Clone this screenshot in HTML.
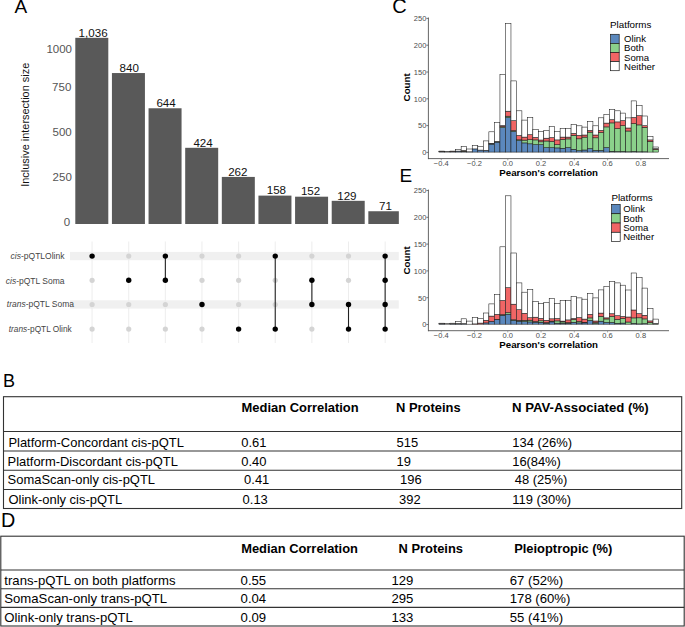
<!DOCTYPE html>
<html><head><meta charset="utf-8"><style>
html,body{margin:0;padding:0;background:#fff;}
body{width:685px;height:627px;overflow:hidden;font-family:'Liberation Sans', sans-serif;}
svg{display:block;}
text{font-family:'Liberation Sans', sans-serif;}
</style></head><body>
<svg width="685" height="627" viewBox="0 0 685 627">
<text x="14.6" y="13" font-size="19" fill="#000">A</text>
<text x="392.3" y="13.0" font-size="20" fill="#000">C</text>
<text x="399.6" y="182" font-size="19" fill="#000">E</text>
<text x="2.9" y="387.2" font-size="18" fill="#000">B</text>
<text x="0.9" y="526.7" font-size="19.8" fill="#000">D</text>
<rect x="75.30" y="37.83" width="33.00" height="186.17" fill="#595959"/>
<text x="93.10" y="36.63" font-size="11.6" text-anchor="middle" fill="#111">1,036</text>
<rect x="111.93" y="73.05" width="33.00" height="150.95" fill="#595959"/>
<text x="129.20" y="71.85" font-size="11.6" text-anchor="middle" fill="#111">840</text>
<rect x="148.56" y="108.27" width="33.00" height="115.73" fill="#595959"/>
<text x="166.10" y="107.07" font-size="11.6" text-anchor="middle" fill="#111">644</text>
<rect x="185.19" y="147.81" width="33.00" height="76.19" fill="#595959"/>
<text x="203.10" y="146.61" font-size="11.6" text-anchor="middle" fill="#111">424</text>
<rect x="221.82" y="176.92" width="33.00" height="47.08" fill="#595959"/>
<text x="237.80" y="175.72" font-size="11.6" text-anchor="middle" fill="#111">262</text>
<rect x="258.45" y="195.61" width="33.00" height="28.39" fill="#595959"/>
<text x="276.40" y="194.41" font-size="11.6" text-anchor="middle" fill="#111">158</text>
<rect x="295.08" y="196.69" width="33.00" height="27.31" fill="#595959"/>
<text x="310.60" y="195.49" font-size="11.6" text-anchor="middle" fill="#111">152</text>
<rect x="331.71" y="200.82" width="33.00" height="23.18" fill="#595959"/>
<text x="346.90" y="199.62" font-size="11.6" text-anchor="middle" fill="#111">129</text>
<rect x="368.34" y="211.24" width="30.50" height="12.76" fill="#595959"/>
<text x="385.50" y="210.04" font-size="11.6" text-anchor="middle" fill="#111">71</text>
<text x="72.0" y="52.90" font-size="11.5" text-anchor="end" fill="#555">1000</text>
<text x="71.3" y="91.00" font-size="11.5" text-anchor="end" fill="#555">750</text>
<text x="71.7" y="135.80" font-size="11.5" text-anchor="end" fill="#555">500</text>
<text x="71.8" y="181.10" font-size="11.5" text-anchor="end" fill="#555">250</text>
<text x="70.2" y="226.10" font-size="11.5" text-anchor="end" fill="#555">0</text>
<text transform="translate(29.1,124.8) rotate(-90)" font-size="10.95" text-anchor="middle" fill="#111">Inclusive intersection size</text>
<rect x="70" y="251.90" width="328.8" height="8.3" fill="#f0f0f0"/>
<rect x="70" y="300.30" width="328.8" height="8.3" fill="#f0f0f0"/>
<line x1="92.10" y1="241.5" x2="92.10" y2="343" stroke="#ebebeb" stroke-width="0.9"/>
<line x1="128.73" y1="241.5" x2="128.73" y2="343" stroke="#ebebeb" stroke-width="0.9"/>
<line x1="165.36" y1="241.5" x2="165.36" y2="343" stroke="#ebebeb" stroke-width="0.9"/>
<line x1="201.99" y1="241.5" x2="201.99" y2="343" stroke="#ebebeb" stroke-width="0.9"/>
<line x1="238.62" y1="241.5" x2="238.62" y2="343" stroke="#ebebeb" stroke-width="0.9"/>
<line x1="275.25" y1="241.5" x2="275.25" y2="343" stroke="#ebebeb" stroke-width="0.9"/>
<line x1="311.88" y1="241.5" x2="311.88" y2="343" stroke="#ebebeb" stroke-width="0.9"/>
<line x1="348.51" y1="241.5" x2="348.51" y2="343" stroke="#ebebeb" stroke-width="0.9"/>
<line x1="385.14" y1="241.5" x2="385.14" y2="343" stroke="#ebebeb" stroke-width="0.9"/>
<circle cx="92.10" cy="280.30" r="2.6" fill="#d4d4d4"/>
<circle cx="92.10" cy="304.50" r="2.6" fill="#d4d4d4"/>
<circle cx="92.10" cy="329.10" r="2.6" fill="#d4d4d4"/>
<circle cx="92.10" cy="256.10" r="2.7" fill="#000"/>
<circle cx="128.73" cy="256.10" r="2.6" fill="#d4d4d4"/>
<circle cx="128.73" cy="304.50" r="2.6" fill="#d4d4d4"/>
<circle cx="128.73" cy="329.10" r="2.6" fill="#d4d4d4"/>
<circle cx="128.73" cy="280.30" r="2.7" fill="#000"/>
<circle cx="165.36" cy="304.50" r="2.6" fill="#d4d4d4"/>
<circle cx="165.36" cy="329.10" r="2.6" fill="#d4d4d4"/>
<line x1="165.36" y1="256.10" x2="165.36" y2="280.30" stroke="#222" stroke-width="1.1"/>
<circle cx="165.36" cy="256.10" r="2.7" fill="#000"/>
<circle cx="165.36" cy="280.30" r="2.7" fill="#000"/>
<circle cx="201.99" cy="256.10" r="2.6" fill="#d4d4d4"/>
<circle cx="201.99" cy="280.30" r="2.6" fill="#d4d4d4"/>
<circle cx="201.99" cy="329.10" r="2.6" fill="#d4d4d4"/>
<circle cx="201.99" cy="304.50" r="2.7" fill="#000"/>
<circle cx="238.62" cy="256.10" r="2.6" fill="#d4d4d4"/>
<circle cx="238.62" cy="280.30" r="2.6" fill="#d4d4d4"/>
<circle cx="238.62" cy="304.50" r="2.6" fill="#d4d4d4"/>
<circle cx="238.62" cy="329.10" r="2.7" fill="#000"/>
<circle cx="275.25" cy="280.30" r="2.6" fill="#d4d4d4"/>
<circle cx="275.25" cy="304.50" r="2.6" fill="#d4d4d4"/>
<line x1="275.25" y1="256.10" x2="275.25" y2="329.10" stroke="#222" stroke-width="1.1"/>
<circle cx="275.25" cy="256.10" r="2.7" fill="#000"/>
<circle cx="275.25" cy="329.10" r="2.7" fill="#000"/>
<circle cx="311.88" cy="256.10" r="2.6" fill="#d4d4d4"/>
<circle cx="311.88" cy="329.10" r="2.6" fill="#d4d4d4"/>
<line x1="311.88" y1="280.30" x2="311.88" y2="304.50" stroke="#222" stroke-width="1.1"/>
<circle cx="311.88" cy="280.30" r="2.7" fill="#000"/>
<circle cx="311.88" cy="304.50" r="2.7" fill="#000"/>
<circle cx="348.51" cy="256.10" r="2.6" fill="#d4d4d4"/>
<circle cx="348.51" cy="280.30" r="2.6" fill="#d4d4d4"/>
<line x1="348.51" y1="304.50" x2="348.51" y2="329.10" stroke="#222" stroke-width="1.1"/>
<circle cx="348.51" cy="304.50" r="2.7" fill="#000"/>
<circle cx="348.51" cy="329.10" r="2.7" fill="#000"/>
<line x1="385.14" y1="256.10" x2="385.14" y2="329.10" stroke="#222" stroke-width="1.1"/>
<circle cx="385.14" cy="256.10" r="2.7" fill="#000"/>
<circle cx="385.14" cy="280.30" r="2.7" fill="#000"/>
<circle cx="385.14" cy="304.50" r="2.7" fill="#000"/>
<circle cx="385.14" cy="329.10" r="2.7" fill="#000"/>
<text x="10.6" y="259.2" font-size="8.5" fill="#444"><tspan font-style="italic">cis</tspan>-pQTLOlink</text>
<text x="5.8" y="283.5" font-size="8.5" fill="#444"><tspan font-style="italic">cis</tspan>-pQTL Soma</text>
<text x="6.8" y="307.3" font-size="8.5" fill="#444"><tspan font-style="italic">trans</tspan>-pQTL Soma</text>
<text x="8.8" y="332.2" font-size="8.3" fill="#444"><tspan font-style="italic">trans</tspan>-pQTL Olink</text>
<rect x="439.00" y="151.70" width="5.54" height="0.40" fill="#5b88bd" stroke="#1a1a1a" stroke-width="0.55"/>
<rect x="439.00" y="151.50" width="5.54" height="0.20" fill="#8bd18b" stroke="#1a1a1a" stroke-width="0.55"/>
<rect x="439.00" y="151.30" width="5.54" height="0.20" fill="#f06565" stroke="#1a1a1a" stroke-width="0.55"/>
<rect x="439.00" y="151.10" width="5.54" height="0.20" fill="#ffffff" stroke="#1a1a1a" stroke-width="0.55"/>
<rect x="444.54" y="151.30" width="5.54" height="0.80" fill="#ffffff" stroke="#1a1a1a" stroke-width="0.55"/>
<rect x="450.08" y="151.60" width="5.54" height="0.50" fill="#5b88bd" stroke="#1a1a1a" stroke-width="0.55"/>
<rect x="450.08" y="151.30" width="5.54" height="0.30" fill="#f06565" stroke="#1a1a1a" stroke-width="0.55"/>
<rect x="450.08" y="151.10" width="5.54" height="0.20" fill="#ffffff" stroke="#1a1a1a" stroke-width="0.55"/>
<rect x="455.62" y="151.10" width="5.54" height="1.00" fill="#5b88bd" stroke="#1a1a1a" stroke-width="0.55"/>
<rect x="455.62" y="149.50" width="5.54" height="1.60" fill="#ffffff" stroke="#1a1a1a" stroke-width="0.55"/>
<rect x="461.16" y="151.50" width="5.54" height="0.60" fill="#5b88bd" stroke="#1a1a1a" stroke-width="0.55"/>
<rect x="461.16" y="151.10" width="5.54" height="0.40" fill="#8bd18b" stroke="#1a1a1a" stroke-width="0.55"/>
<rect x="461.16" y="150.60" width="5.54" height="0.50" fill="#f06565" stroke="#1a1a1a" stroke-width="0.55"/>
<rect x="461.16" y="146.70" width="5.54" height="3.90" fill="#ffffff" stroke="#1a1a1a" stroke-width="0.55"/>
<rect x="466.70" y="151.80" width="5.54" height="0.30" fill="#5b88bd" stroke="#1a1a1a" stroke-width="0.55"/>
<rect x="466.70" y="149.00" width="5.54" height="2.80" fill="#ffffff" stroke="#1a1a1a" stroke-width="0.55"/>
<rect x="472.24" y="148.90" width="5.54" height="3.20" fill="#5b88bd" stroke="#1a1a1a" stroke-width="0.55"/>
<rect x="472.24" y="145.30" width="5.54" height="3.60" fill="#ffffff" stroke="#1a1a1a" stroke-width="0.55"/>
<rect x="477.78" y="150.10" width="5.54" height="2.00" fill="#5b88bd" stroke="#1a1a1a" stroke-width="0.55"/>
<rect x="477.78" y="146.40" width="5.54" height="3.70" fill="#ffffff" stroke="#1a1a1a" stroke-width="0.55"/>
<rect x="483.32" y="150.30" width="5.54" height="1.80" fill="#5b88bd" stroke="#1a1a1a" stroke-width="0.55"/>
<rect x="483.32" y="140.90" width="5.54" height="9.40" fill="#ffffff" stroke="#1a1a1a" stroke-width="0.55"/>
<rect x="488.86" y="144.10" width="5.54" height="8.00" fill="#5b88bd" stroke="#1a1a1a" stroke-width="0.55"/>
<rect x="488.86" y="143.80" width="5.54" height="0.30" fill="#8bd18b" stroke="#1a1a1a" stroke-width="0.55"/>
<rect x="488.86" y="143.30" width="5.54" height="0.50" fill="#f06565" stroke="#1a1a1a" stroke-width="0.55"/>
<rect x="488.86" y="131.80" width="5.54" height="11.50" fill="#ffffff" stroke="#1a1a1a" stroke-width="0.55"/>
<rect x="494.40" y="142.10" width="5.54" height="10.00" fill="#5b88bd" stroke="#1a1a1a" stroke-width="0.55"/>
<rect x="494.40" y="141.80" width="5.54" height="0.30" fill="#8bd18b" stroke="#1a1a1a" stroke-width="0.55"/>
<rect x="494.40" y="141.50" width="5.54" height="0.30" fill="#f06565" stroke="#1a1a1a" stroke-width="0.55"/>
<rect x="494.40" y="122.60" width="5.54" height="18.90" fill="#ffffff" stroke="#1a1a1a" stroke-width="0.55"/>
<rect x="499.94" y="127.60" width="5.54" height="24.50" fill="#5b88bd" stroke="#1a1a1a" stroke-width="0.55"/>
<rect x="499.94" y="126.60" width="5.54" height="1.00" fill="#8bd18b" stroke="#1a1a1a" stroke-width="0.55"/>
<rect x="499.94" y="125.60" width="5.54" height="1.00" fill="#f06565" stroke="#1a1a1a" stroke-width="0.55"/>
<rect x="499.94" y="74.70" width="5.54" height="50.90" fill="#ffffff" stroke="#1a1a1a" stroke-width="0.55"/>
<rect x="505.48" y="117.70" width="5.48" height="34.40" fill="#5b88bd" stroke="#1a1a1a" stroke-width="0.55"/>
<rect x="505.48" y="116.20" width="5.48" height="1.50" fill="#8bd18b" stroke="#1a1a1a" stroke-width="0.55"/>
<rect x="505.48" y="111.20" width="5.48" height="5.00" fill="#f06565" stroke="#1a1a1a" stroke-width="0.55"/>
<rect x="505.48" y="23.70" width="5.48" height="87.50" fill="#ffffff" stroke="#1a1a1a" stroke-width="0.55"/>
<rect x="510.96" y="131.50" width="5.46" height="20.60" fill="#5b88bd" stroke="#1a1a1a" stroke-width="0.55"/>
<rect x="510.96" y="130.70" width="5.46" height="0.80" fill="#8bd18b" stroke="#1a1a1a" stroke-width="0.55"/>
<rect x="510.96" y="120.70" width="5.46" height="10.00" fill="#f06565" stroke="#1a1a1a" stroke-width="0.55"/>
<rect x="510.96" y="80.90" width="5.46" height="39.80" fill="#ffffff" stroke="#1a1a1a" stroke-width="0.55"/>
<rect x="516.43" y="140.60" width="5.46" height="11.50" fill="#5b88bd" stroke="#1a1a1a" stroke-width="0.55"/>
<rect x="516.43" y="139.80" width="5.46" height="0.80" fill="#8bd18b" stroke="#1a1a1a" stroke-width="0.55"/>
<rect x="516.43" y="135.50" width="5.46" height="4.30" fill="#f06565" stroke="#1a1a1a" stroke-width="0.55"/>
<rect x="516.43" y="110.80" width="5.46" height="24.70" fill="#ffffff" stroke="#1a1a1a" stroke-width="0.55"/>
<rect x="521.89" y="142.90" width="5.46" height="9.20" fill="#5b88bd" stroke="#1a1a1a" stroke-width="0.55"/>
<rect x="521.89" y="140.10" width="5.46" height="2.80" fill="#8bd18b" stroke="#1a1a1a" stroke-width="0.55"/>
<rect x="521.89" y="137.10" width="5.46" height="3.00" fill="#f06565" stroke="#1a1a1a" stroke-width="0.55"/>
<rect x="521.89" y="120.10" width="5.46" height="17.00" fill="#ffffff" stroke="#1a1a1a" stroke-width="0.55"/>
<rect x="527.36" y="143.80" width="5.46" height="8.30" fill="#5b88bd" stroke="#1a1a1a" stroke-width="0.55"/>
<rect x="527.36" y="139.70" width="5.46" height="4.10" fill="#8bd18b" stroke="#1a1a1a" stroke-width="0.55"/>
<rect x="527.36" y="134.70" width="5.46" height="5.00" fill="#f06565" stroke="#1a1a1a" stroke-width="0.55"/>
<rect x="527.36" y="117.50" width="5.46" height="17.20" fill="#ffffff" stroke="#1a1a1a" stroke-width="0.55"/>
<rect x="532.82" y="144.70" width="5.46" height="7.40" fill="#5b88bd" stroke="#1a1a1a" stroke-width="0.55"/>
<rect x="532.82" y="139.90" width="5.46" height="4.80" fill="#8bd18b" stroke="#1a1a1a" stroke-width="0.55"/>
<rect x="532.82" y="137.40" width="5.46" height="2.50" fill="#f06565" stroke="#1a1a1a" stroke-width="0.55"/>
<rect x="532.82" y="129.60" width="5.46" height="7.80" fill="#ffffff" stroke="#1a1a1a" stroke-width="0.55"/>
<rect x="538.28" y="144.70" width="5.46" height="7.40" fill="#5b88bd" stroke="#1a1a1a" stroke-width="0.55"/>
<rect x="538.28" y="141.80" width="5.46" height="2.90" fill="#8bd18b" stroke="#1a1a1a" stroke-width="0.55"/>
<rect x="538.28" y="140.00" width="5.46" height="1.80" fill="#f06565" stroke="#1a1a1a" stroke-width="0.55"/>
<rect x="538.28" y="131.60" width="5.46" height="8.40" fill="#ffffff" stroke="#1a1a1a" stroke-width="0.55"/>
<rect x="543.75" y="147.70" width="5.46" height="4.40" fill="#5b88bd" stroke="#1a1a1a" stroke-width="0.55"/>
<rect x="543.75" y="141.00" width="5.46" height="6.70" fill="#8bd18b" stroke="#1a1a1a" stroke-width="0.55"/>
<rect x="543.75" y="138.20" width="5.46" height="2.80" fill="#f06565" stroke="#1a1a1a" stroke-width="0.55"/>
<rect x="543.75" y="130.40" width="5.46" height="7.80" fill="#ffffff" stroke="#1a1a1a" stroke-width="0.55"/>
<rect x="549.21" y="147.70" width="5.46" height="4.40" fill="#5b88bd" stroke="#1a1a1a" stroke-width="0.55"/>
<rect x="549.21" y="141.60" width="5.46" height="6.10" fill="#8bd18b" stroke="#1a1a1a" stroke-width="0.55"/>
<rect x="549.21" y="137.60" width="5.46" height="4.00" fill="#f06565" stroke="#1a1a1a" stroke-width="0.55"/>
<rect x="549.21" y="126.50" width="5.46" height="11.10" fill="#ffffff" stroke="#1a1a1a" stroke-width="0.55"/>
<rect x="554.68" y="147.90" width="5.46" height="4.20" fill="#5b88bd" stroke="#1a1a1a" stroke-width="0.55"/>
<rect x="554.68" y="144.70" width="5.46" height="3.20" fill="#8bd18b" stroke="#1a1a1a" stroke-width="0.55"/>
<rect x="554.68" y="139.90" width="5.46" height="4.80" fill="#f06565" stroke="#1a1a1a" stroke-width="0.55"/>
<rect x="554.68" y="131.60" width="5.46" height="8.30" fill="#ffffff" stroke="#1a1a1a" stroke-width="0.55"/>
<rect x="560.14" y="148.30" width="5.46" height="3.80" fill="#5b88bd" stroke="#1a1a1a" stroke-width="0.55"/>
<rect x="560.14" y="139.50" width="5.46" height="8.80" fill="#8bd18b" stroke="#1a1a1a" stroke-width="0.55"/>
<rect x="560.14" y="137.10" width="5.46" height="2.40" fill="#f06565" stroke="#1a1a1a" stroke-width="0.55"/>
<rect x="560.14" y="128.60" width="5.46" height="8.50" fill="#ffffff" stroke="#1a1a1a" stroke-width="0.55"/>
<rect x="565.60" y="147.60" width="5.46" height="4.50" fill="#5b88bd" stroke="#1a1a1a" stroke-width="0.55"/>
<rect x="565.60" y="138.90" width="5.46" height="8.70" fill="#8bd18b" stroke="#1a1a1a" stroke-width="0.55"/>
<rect x="565.60" y="137.10" width="5.46" height="1.80" fill="#f06565" stroke="#1a1a1a" stroke-width="0.55"/>
<rect x="565.60" y="128.60" width="5.46" height="8.50" fill="#ffffff" stroke="#1a1a1a" stroke-width="0.55"/>
<rect x="571.07" y="149.30" width="5.46" height="2.80" fill="#5b88bd" stroke="#1a1a1a" stroke-width="0.55"/>
<rect x="571.07" y="135.30" width="5.46" height="14.00" fill="#8bd18b" stroke="#1a1a1a" stroke-width="0.55"/>
<rect x="571.07" y="133.40" width="5.46" height="1.90" fill="#f06565" stroke="#1a1a1a" stroke-width="0.55"/>
<rect x="571.07" y="124.40" width="5.46" height="9.00" fill="#ffffff" stroke="#1a1a1a" stroke-width="0.55"/>
<rect x="576.53" y="150.70" width="5.46" height="1.40" fill="#5b88bd" stroke="#1a1a1a" stroke-width="0.55"/>
<rect x="576.53" y="138.80" width="5.46" height="11.90" fill="#8bd18b" stroke="#1a1a1a" stroke-width="0.55"/>
<rect x="576.53" y="135.40" width="5.46" height="3.40" fill="#f06565" stroke="#1a1a1a" stroke-width="0.55"/>
<rect x="576.53" y="125.80" width="5.46" height="9.60" fill="#ffffff" stroke="#1a1a1a" stroke-width="0.55"/>
<rect x="582.00" y="150.00" width="5.46" height="2.10" fill="#5b88bd" stroke="#1a1a1a" stroke-width="0.55"/>
<rect x="582.00" y="137.10" width="5.46" height="12.90" fill="#8bd18b" stroke="#1a1a1a" stroke-width="0.55"/>
<rect x="582.00" y="135.00" width="5.46" height="2.10" fill="#f06565" stroke="#1a1a1a" stroke-width="0.55"/>
<rect x="582.00" y="127.10" width="5.46" height="7.90" fill="#ffffff" stroke="#1a1a1a" stroke-width="0.55"/>
<rect x="587.46" y="148.60" width="5.46" height="3.50" fill="#5b88bd" stroke="#1a1a1a" stroke-width="0.55"/>
<rect x="587.46" y="132.10" width="5.46" height="16.50" fill="#8bd18b" stroke="#1a1a1a" stroke-width="0.55"/>
<rect x="587.46" y="130.40" width="5.46" height="1.70" fill="#f06565" stroke="#1a1a1a" stroke-width="0.55"/>
<rect x="587.46" y="121.60" width="5.46" height="8.80" fill="#ffffff" stroke="#1a1a1a" stroke-width="0.55"/>
<rect x="592.92" y="150.40" width="5.46" height="1.70" fill="#5b88bd" stroke="#1a1a1a" stroke-width="0.55"/>
<rect x="592.92" y="137.80" width="5.46" height="12.60" fill="#8bd18b" stroke="#1a1a1a" stroke-width="0.55"/>
<rect x="592.92" y="135.00" width="5.46" height="2.80" fill="#f06565" stroke="#1a1a1a" stroke-width="0.55"/>
<rect x="592.92" y="125.80" width="5.46" height="9.20" fill="#ffffff" stroke="#1a1a1a" stroke-width="0.55"/>
<rect x="598.39" y="150.40" width="5.46" height="1.70" fill="#5b88bd" stroke="#1a1a1a" stroke-width="0.55"/>
<rect x="598.39" y="132.50" width="5.46" height="17.90" fill="#8bd18b" stroke="#1a1a1a" stroke-width="0.55"/>
<rect x="598.39" y="130.40" width="5.46" height="2.10" fill="#f06565" stroke="#1a1a1a" stroke-width="0.55"/>
<rect x="598.39" y="117.80" width="5.46" height="12.60" fill="#ffffff" stroke="#1a1a1a" stroke-width="0.55"/>
<rect x="603.85" y="147.60" width="5.46" height="4.50" fill="#5b88bd" stroke="#1a1a1a" stroke-width="0.55"/>
<rect x="603.85" y="126.90" width="5.46" height="20.70" fill="#8bd18b" stroke="#1a1a1a" stroke-width="0.55"/>
<rect x="603.85" y="123.10" width="5.46" height="3.80" fill="#f06565" stroke="#1a1a1a" stroke-width="0.55"/>
<rect x="603.85" y="114.40" width="5.46" height="8.70" fill="#ffffff" stroke="#1a1a1a" stroke-width="0.55"/>
<rect x="609.32" y="151.30" width="5.46" height="0.80" fill="#5b88bd" stroke="#1a1a1a" stroke-width="0.55"/>
<rect x="609.32" y="122.90" width="5.46" height="28.40" fill="#8bd18b" stroke="#1a1a1a" stroke-width="0.55"/>
<rect x="609.32" y="119.70" width="5.46" height="3.20" fill="#f06565" stroke="#1a1a1a" stroke-width="0.55"/>
<rect x="609.32" y="109.60" width="5.46" height="10.10" fill="#ffffff" stroke="#1a1a1a" stroke-width="0.55"/>
<rect x="614.78" y="151.60" width="5.46" height="0.50" fill="#5b88bd" stroke="#1a1a1a" stroke-width="0.55"/>
<rect x="614.78" y="128.60" width="5.46" height="23.00" fill="#8bd18b" stroke="#1a1a1a" stroke-width="0.55"/>
<rect x="614.78" y="121.90" width="5.46" height="6.70" fill="#f06565" stroke="#1a1a1a" stroke-width="0.55"/>
<rect x="614.78" y="110.80" width="5.46" height="11.10" fill="#ffffff" stroke="#1a1a1a" stroke-width="0.55"/>
<rect x="620.24" y="151.50" width="5.46" height="0.60" fill="#5b88bd" stroke="#1a1a1a" stroke-width="0.55"/>
<rect x="620.24" y="125.70" width="5.46" height="25.80" fill="#8bd18b" stroke="#1a1a1a" stroke-width="0.55"/>
<rect x="620.24" y="120.60" width="5.46" height="5.10" fill="#f06565" stroke="#1a1a1a" stroke-width="0.55"/>
<rect x="620.24" y="113.10" width="5.46" height="7.50" fill="#ffffff" stroke="#1a1a1a" stroke-width="0.55"/>
<rect x="625.71" y="151.80" width="5.46" height="0.30" fill="#5b88bd" stroke="#1a1a1a" stroke-width="0.55"/>
<rect x="625.71" y="131.00" width="5.46" height="20.80" fill="#8bd18b" stroke="#1a1a1a" stroke-width="0.55"/>
<rect x="625.71" y="128.00" width="5.46" height="3.00" fill="#f06565" stroke="#1a1a1a" stroke-width="0.55"/>
<rect x="625.71" y="117.90" width="5.46" height="10.10" fill="#ffffff" stroke="#1a1a1a" stroke-width="0.55"/>
<rect x="631.17" y="151.50" width="5.46" height="0.60" fill="#5b88bd" stroke="#1a1a1a" stroke-width="0.55"/>
<rect x="631.17" y="123.60" width="5.46" height="27.90" fill="#8bd18b" stroke="#1a1a1a" stroke-width="0.55"/>
<rect x="631.17" y="117.50" width="5.46" height="6.10" fill="#f06565" stroke="#1a1a1a" stroke-width="0.55"/>
<rect x="631.17" y="100.90" width="5.46" height="16.60" fill="#ffffff" stroke="#1a1a1a" stroke-width="0.55"/>
<rect x="636.64" y="151.80" width="5.46" height="0.30" fill="#5b88bd" stroke="#1a1a1a" stroke-width="0.55"/>
<rect x="636.64" y="124.90" width="5.46" height="26.90" fill="#8bd18b" stroke="#1a1a1a" stroke-width="0.55"/>
<rect x="636.64" y="115.70" width="5.46" height="9.20" fill="#f06565" stroke="#1a1a1a" stroke-width="0.55"/>
<rect x="636.64" y="105.40" width="5.46" height="10.30" fill="#ffffff" stroke="#1a1a1a" stroke-width="0.55"/>
<rect x="642.10" y="151.80" width="5.46" height="0.30" fill="#5b88bd" stroke="#1a1a1a" stroke-width="0.55"/>
<rect x="642.10" y="127.30" width="5.46" height="24.50" fill="#8bd18b" stroke="#1a1a1a" stroke-width="0.55"/>
<rect x="642.10" y="125.70" width="5.46" height="1.60" fill="#f06565" stroke="#1a1a1a" stroke-width="0.55"/>
<rect x="642.10" y="116.00" width="5.46" height="9.70" fill="#ffffff" stroke="#1a1a1a" stroke-width="0.55"/>
<rect x="647.56" y="141.40" width="5.46" height="10.70" fill="#8bd18b" stroke="#1a1a1a" stroke-width="0.55"/>
<rect x="647.56" y="139.90" width="5.46" height="1.50" fill="#f06565" stroke="#1a1a1a" stroke-width="0.55"/>
<rect x="647.56" y="136.60" width="5.46" height="3.30" fill="#ffffff" stroke="#1a1a1a" stroke-width="0.55"/>
<rect x="653.03" y="149.40" width="5.46" height="2.70" fill="#8bd18b" stroke="#1a1a1a" stroke-width="0.55"/>
<rect x="653.03" y="148.70" width="5.46" height="0.70" fill="#f06565" stroke="#1a1a1a" stroke-width="0.55"/>
<rect x="653.03" y="147.00" width="5.46" height="1.70" fill="#ffffff" stroke="#1a1a1a" stroke-width="0.55"/>
<line x1="428.4" y1="17.50" x2="428.4" y2="159.10" stroke="#555" stroke-width="0.9"/>
<line x1="428" y1="158.60" x2="669" y2="158.60" stroke="#555" stroke-width="0.9"/>
<line x1="426.4" y1="152.40" x2="428.4" y2="152.40" stroke="#555" stroke-width="0.8"/>
<text transform="translate(426.4,155.20) scale(0.94,1)" font-size="8.0" text-anchor="end" fill="#4d4d4d">0</text>
<line x1="426.4" y1="125.60" x2="428.4" y2="125.60" stroke="#555" stroke-width="0.8"/>
<text transform="translate(426.4,128.40) scale(0.94,1)" font-size="8.0" text-anchor="end" fill="#4d4d4d">50</text>
<line x1="426.4" y1="98.80" x2="428.4" y2="98.80" stroke="#555" stroke-width="0.8"/>
<text transform="translate(426.4,101.60) scale(0.94,1)" font-size="8.0" text-anchor="end" fill="#4d4d4d">100</text>
<line x1="426.4" y1="72.00" x2="428.4" y2="72.00" stroke="#555" stroke-width="0.8"/>
<text transform="translate(426.4,74.80) scale(0.94,1)" font-size="8.0" text-anchor="end" fill="#4d4d4d">150</text>
<line x1="426.4" y1="45.20" x2="428.4" y2="45.20" stroke="#555" stroke-width="0.8"/>
<text transform="translate(426.4,48.00) scale(0.94,1)" font-size="8.0" text-anchor="end" fill="#4d4d4d">200</text>
<line x1="426.4" y1="18.40" x2="428.4" y2="18.40" stroke="#555" stroke-width="0.8"/>
<text transform="translate(426.4,21.20) scale(0.94,1)" font-size="8.0" text-anchor="end" fill="#4d4d4d">250</text>
<line x1="441.28" y1="159.00" x2="441.28" y2="160.30" stroke="#777" stroke-width="0.7"/>
<text transform="translate(441.28,165.60) scale(0.94,1)" font-size="8.0" text-anchor="middle" fill="#4d4d4d">−0.4</text>
<line x1="474.54" y1="159.00" x2="474.54" y2="160.30" stroke="#777" stroke-width="0.7"/>
<text transform="translate(474.54,165.60) scale(0.94,1)" font-size="8.0" text-anchor="middle" fill="#4d4d4d">−0.2</text>
<line x1="507.80" y1="159.00" x2="507.80" y2="160.30" stroke="#777" stroke-width="0.7"/>
<text transform="translate(507.80,165.60) scale(0.94,1)" font-size="8.0" text-anchor="middle" fill="#4d4d4d">0.0</text>
<line x1="541.06" y1="159.00" x2="541.06" y2="160.30" stroke="#777" stroke-width="0.7"/>
<text transform="translate(541.06,165.60) scale(0.94,1)" font-size="8.0" text-anchor="middle" fill="#4d4d4d">0.2</text>
<line x1="574.32" y1="159.00" x2="574.32" y2="160.30" stroke="#777" stroke-width="0.7"/>
<text transform="translate(574.32,165.60) scale(0.94,1)" font-size="8.0" text-anchor="middle" fill="#4d4d4d">0.4</text>
<line x1="607.58" y1="159.00" x2="607.58" y2="160.30" stroke="#777" stroke-width="0.7"/>
<text transform="translate(607.58,165.60) scale(0.94,1)" font-size="8.0" text-anchor="middle" fill="#4d4d4d">0.6</text>
<line x1="640.84" y1="159.00" x2="640.84" y2="160.30" stroke="#777" stroke-width="0.7"/>
<text transform="translate(640.84,165.60) scale(0.94,1)" font-size="8.0" text-anchor="middle" fill="#4d4d4d">0.8</text>
<text transform="translate(410.3,87.30) rotate(-90)" font-size="9.8" font-weight="bold" text-anchor="middle" fill="#000">Count</text>
<text x="499.3" y="176.30" font-size="9.7" font-weight="bold" fill="#000">Pearson's correlation</text>
<text x="610.0" y="28.4" font-size="9.8" fill="#000">Platforms</text>
<rect x="610.60" y="34.30" width="8.6" height="9.10" fill="#5b88bd" stroke="#1a1a1a" stroke-width="0.7"/>
<text x="624.10" y="42.30" font-size="9.6" fill="#000">Olink</text>
<rect x="610.60" y="43.40" width="8.6" height="9.10" fill="#8bd18b" stroke="#1a1a1a" stroke-width="0.7"/>
<text x="624.10" y="51.40" font-size="9.6" fill="#000">Both</text>
<rect x="610.60" y="52.50" width="8.6" height="9.10" fill="#f06565" stroke="#1a1a1a" stroke-width="0.7"/>
<text x="624.10" y="60.50" font-size="9.6" fill="#000">Soma</text>
<rect x="610.60" y="61.60" width="8.6" height="9.10" fill="#ffffff" stroke="#1a1a1a" stroke-width="0.7"/>
<text x="624.10" y="69.60" font-size="9.6" fill="#000">Neither</text>
<rect x="439.00" y="323.90" width="5.54" height="0.30" fill="#5b88bd" stroke="#1a1a1a" stroke-width="0.55"/>
<rect x="439.00" y="323.60" width="5.54" height="0.30" fill="#f06565" stroke="#1a1a1a" stroke-width="0.55"/>
<rect x="439.00" y="323.20" width="5.54" height="0.40" fill="#ffffff" stroke="#1a1a1a" stroke-width="0.55"/>
<rect x="444.54" y="323.40" width="5.54" height="0.80" fill="#ffffff" stroke="#1a1a1a" stroke-width="0.55"/>
<rect x="450.08" y="323.90" width="5.54" height="0.30" fill="#5b88bd" stroke="#1a1a1a" stroke-width="0.55"/>
<rect x="450.08" y="323.70" width="5.54" height="0.20" fill="#f06565" stroke="#1a1a1a" stroke-width="0.55"/>
<rect x="450.08" y="323.20" width="5.54" height="0.50" fill="#ffffff" stroke="#1a1a1a" stroke-width="0.55"/>
<rect x="455.62" y="323.90" width="5.54" height="0.30" fill="#5b88bd" stroke="#1a1a1a" stroke-width="0.55"/>
<rect x="455.62" y="323.60" width="5.54" height="0.30" fill="#f06565" stroke="#1a1a1a" stroke-width="0.55"/>
<rect x="455.62" y="321.60" width="5.54" height="2.00" fill="#ffffff" stroke="#1a1a1a" stroke-width="0.55"/>
<rect x="461.16" y="323.90" width="5.54" height="0.30" fill="#5b88bd" stroke="#1a1a1a" stroke-width="0.55"/>
<rect x="461.16" y="323.70" width="5.54" height="0.20" fill="#f06565" stroke="#1a1a1a" stroke-width="0.55"/>
<rect x="461.16" y="318.80" width="5.54" height="4.90" fill="#ffffff" stroke="#1a1a1a" stroke-width="0.55"/>
<rect x="466.70" y="321.10" width="5.54" height="3.10" fill="#ffffff" stroke="#1a1a1a" stroke-width="0.55"/>
<rect x="472.24" y="323.90" width="5.54" height="0.30" fill="#f06565" stroke="#1a1a1a" stroke-width="0.55"/>
<rect x="472.24" y="317.40" width="5.54" height="6.50" fill="#ffffff" stroke="#1a1a1a" stroke-width="0.55"/>
<rect x="477.78" y="323.10" width="5.54" height="1.10" fill="#f06565" stroke="#1a1a1a" stroke-width="0.55"/>
<rect x="477.78" y="318.50" width="5.54" height="4.60" fill="#ffffff" stroke="#1a1a1a" stroke-width="0.55"/>
<rect x="483.32" y="322.90" width="5.54" height="1.30" fill="#5b88bd" stroke="#1a1a1a" stroke-width="0.55"/>
<rect x="483.32" y="320.30" width="5.54" height="2.60" fill="#f06565" stroke="#1a1a1a" stroke-width="0.55"/>
<rect x="483.32" y="313.00" width="5.54" height="7.30" fill="#ffffff" stroke="#1a1a1a" stroke-width="0.55"/>
<rect x="488.86" y="321.40" width="5.54" height="2.80" fill="#5b88bd" stroke="#1a1a1a" stroke-width="0.55"/>
<rect x="488.86" y="316.10" width="5.54" height="5.30" fill="#f06565" stroke="#1a1a1a" stroke-width="0.55"/>
<rect x="488.86" y="303.90" width="5.54" height="12.20" fill="#ffffff" stroke="#1a1a1a" stroke-width="0.55"/>
<rect x="494.40" y="319.60" width="5.54" height="4.60" fill="#5b88bd" stroke="#1a1a1a" stroke-width="0.55"/>
<rect x="494.40" y="319.30" width="5.54" height="0.30" fill="#8bd18b" stroke="#1a1a1a" stroke-width="0.55"/>
<rect x="494.40" y="314.40" width="5.54" height="4.90" fill="#f06565" stroke="#1a1a1a" stroke-width="0.55"/>
<rect x="494.40" y="294.70" width="5.54" height="19.70" fill="#ffffff" stroke="#1a1a1a" stroke-width="0.55"/>
<rect x="499.94" y="315.30" width="5.54" height="8.90" fill="#5b88bd" stroke="#1a1a1a" stroke-width="0.55"/>
<rect x="499.94" y="314.70" width="5.54" height="0.60" fill="#8bd18b" stroke="#1a1a1a" stroke-width="0.55"/>
<rect x="499.94" y="300.50" width="5.54" height="14.20" fill="#f06565" stroke="#1a1a1a" stroke-width="0.55"/>
<rect x="499.94" y="246.80" width="5.54" height="53.70" fill="#ffffff" stroke="#1a1a1a" stroke-width="0.55"/>
<rect x="505.48" y="314.20" width="5.48" height="10.00" fill="#5b88bd" stroke="#1a1a1a" stroke-width="0.55"/>
<rect x="505.48" y="312.70" width="5.48" height="1.50" fill="#8bd18b" stroke="#1a1a1a" stroke-width="0.55"/>
<rect x="505.48" y="287.70" width="5.48" height="25.00" fill="#f06565" stroke="#1a1a1a" stroke-width="0.55"/>
<rect x="505.48" y="195.80" width="5.48" height="91.90" fill="#ffffff" stroke="#1a1a1a" stroke-width="0.55"/>
<rect x="510.96" y="320.40" width="5.46" height="3.80" fill="#5b88bd" stroke="#1a1a1a" stroke-width="0.55"/>
<rect x="510.96" y="319.80" width="5.46" height="0.60" fill="#8bd18b" stroke="#1a1a1a" stroke-width="0.55"/>
<rect x="510.96" y="304.20" width="5.46" height="15.60" fill="#f06565" stroke="#1a1a1a" stroke-width="0.55"/>
<rect x="510.96" y="253.00" width="5.46" height="51.20" fill="#ffffff" stroke="#1a1a1a" stroke-width="0.55"/>
<rect x="516.43" y="321.20" width="5.46" height="3.00" fill="#5b88bd" stroke="#1a1a1a" stroke-width="0.55"/>
<rect x="516.43" y="320.40" width="5.46" height="0.80" fill="#8bd18b" stroke="#1a1a1a" stroke-width="0.55"/>
<rect x="516.43" y="309.70" width="5.46" height="10.70" fill="#f06565" stroke="#1a1a1a" stroke-width="0.55"/>
<rect x="516.43" y="282.90" width="5.46" height="26.80" fill="#ffffff" stroke="#1a1a1a" stroke-width="0.55"/>
<rect x="521.89" y="321.60" width="5.46" height="2.60" fill="#5b88bd" stroke="#1a1a1a" stroke-width="0.55"/>
<rect x="521.89" y="320.30" width="5.46" height="1.30" fill="#8bd18b" stroke="#1a1a1a" stroke-width="0.55"/>
<rect x="521.89" y="313.30" width="5.46" height="7.00" fill="#f06565" stroke="#1a1a1a" stroke-width="0.55"/>
<rect x="521.89" y="292.20" width="5.46" height="21.10" fill="#ffffff" stroke="#1a1a1a" stroke-width="0.55"/>
<rect x="527.36" y="321.90" width="5.46" height="2.30" fill="#5b88bd" stroke="#1a1a1a" stroke-width="0.55"/>
<rect x="527.36" y="320.20" width="5.46" height="1.70" fill="#8bd18b" stroke="#1a1a1a" stroke-width="0.55"/>
<rect x="527.36" y="317.70" width="5.46" height="2.50" fill="#f06565" stroke="#1a1a1a" stroke-width="0.55"/>
<rect x="527.36" y="289.60" width="5.46" height="28.10" fill="#ffffff" stroke="#1a1a1a" stroke-width="0.55"/>
<rect x="532.82" y="322.20" width="5.46" height="2.00" fill="#5b88bd" stroke="#1a1a1a" stroke-width="0.55"/>
<rect x="532.82" y="321.70" width="5.46" height="0.50" fill="#8bd18b" stroke="#1a1a1a" stroke-width="0.55"/>
<rect x="532.82" y="317.20" width="5.46" height="4.50" fill="#f06565" stroke="#1a1a1a" stroke-width="0.55"/>
<rect x="532.82" y="301.70" width="5.46" height="15.50" fill="#ffffff" stroke="#1a1a1a" stroke-width="0.55"/>
<rect x="538.28" y="322.30" width="5.46" height="1.90" fill="#5b88bd" stroke="#1a1a1a" stroke-width="0.55"/>
<rect x="538.28" y="320.80" width="5.46" height="1.50" fill="#8bd18b" stroke="#1a1a1a" stroke-width="0.55"/>
<rect x="538.28" y="318.40" width="5.46" height="2.40" fill="#f06565" stroke="#1a1a1a" stroke-width="0.55"/>
<rect x="538.28" y="303.70" width="5.46" height="14.70" fill="#ffffff" stroke="#1a1a1a" stroke-width="0.55"/>
<rect x="543.75" y="323.20" width="5.46" height="1.00" fill="#5b88bd" stroke="#1a1a1a" stroke-width="0.55"/>
<rect x="543.75" y="322.70" width="5.46" height="0.50" fill="#8bd18b" stroke="#1a1a1a" stroke-width="0.55"/>
<rect x="543.75" y="320.30" width="5.46" height="2.40" fill="#f06565" stroke="#1a1a1a" stroke-width="0.55"/>
<rect x="543.75" y="302.50" width="5.46" height="17.80" fill="#ffffff" stroke="#1a1a1a" stroke-width="0.55"/>
<rect x="549.21" y="321.90" width="5.46" height="2.30" fill="#5b88bd" stroke="#1a1a1a" stroke-width="0.55"/>
<rect x="549.21" y="321.10" width="5.46" height="0.80" fill="#8bd18b" stroke="#1a1a1a" stroke-width="0.55"/>
<rect x="549.21" y="318.80" width="5.46" height="2.30" fill="#f06565" stroke="#1a1a1a" stroke-width="0.55"/>
<rect x="549.21" y="298.60" width="5.46" height="20.20" fill="#ffffff" stroke="#1a1a1a" stroke-width="0.55"/>
<rect x="554.68" y="323.20" width="5.46" height="1.00" fill="#5b88bd" stroke="#1a1a1a" stroke-width="0.55"/>
<rect x="554.68" y="320.90" width="5.46" height="2.30" fill="#8bd18b" stroke="#1a1a1a" stroke-width="0.55"/>
<rect x="554.68" y="318.50" width="5.46" height="2.40" fill="#f06565" stroke="#1a1a1a" stroke-width="0.55"/>
<rect x="554.68" y="303.70" width="5.46" height="14.80" fill="#ffffff" stroke="#1a1a1a" stroke-width="0.55"/>
<rect x="560.14" y="323.20" width="5.46" height="1.00" fill="#5b88bd" stroke="#1a1a1a" stroke-width="0.55"/>
<rect x="560.14" y="321.90" width="5.46" height="1.30" fill="#8bd18b" stroke="#1a1a1a" stroke-width="0.55"/>
<rect x="560.14" y="321.10" width="5.46" height="0.80" fill="#f06565" stroke="#1a1a1a" stroke-width="0.55"/>
<rect x="560.14" y="300.70" width="5.46" height="20.40" fill="#ffffff" stroke="#1a1a1a" stroke-width="0.55"/>
<rect x="565.60" y="323.20" width="5.46" height="1.00" fill="#5b88bd" stroke="#1a1a1a" stroke-width="0.55"/>
<rect x="565.60" y="322.70" width="5.46" height="0.50" fill="#8bd18b" stroke="#1a1a1a" stroke-width="0.55"/>
<rect x="565.60" y="319.90" width="5.46" height="2.80" fill="#f06565" stroke="#1a1a1a" stroke-width="0.55"/>
<rect x="565.60" y="300.70" width="5.46" height="19.20" fill="#ffffff" stroke="#1a1a1a" stroke-width="0.55"/>
<rect x="571.07" y="322.30" width="5.46" height="1.90" fill="#5b88bd" stroke="#1a1a1a" stroke-width="0.55"/>
<rect x="571.07" y="319.60" width="5.46" height="2.70" fill="#8bd18b" stroke="#1a1a1a" stroke-width="0.55"/>
<rect x="571.07" y="318.50" width="5.46" height="1.10" fill="#f06565" stroke="#1a1a1a" stroke-width="0.55"/>
<rect x="571.07" y="296.50" width="5.46" height="22.00" fill="#ffffff" stroke="#1a1a1a" stroke-width="0.55"/>
<rect x="576.53" y="322.90" width="5.46" height="1.30" fill="#5b88bd" stroke="#1a1a1a" stroke-width="0.55"/>
<rect x="576.53" y="321.50" width="5.46" height="1.40" fill="#8bd18b" stroke="#1a1a1a" stroke-width="0.55"/>
<rect x="576.53" y="317.60" width="5.46" height="3.90" fill="#f06565" stroke="#1a1a1a" stroke-width="0.55"/>
<rect x="576.53" y="297.90" width="5.46" height="19.70" fill="#ffffff" stroke="#1a1a1a" stroke-width="0.55"/>
<rect x="582.00" y="322.90" width="5.46" height="1.30" fill="#5b88bd" stroke="#1a1a1a" stroke-width="0.55"/>
<rect x="582.00" y="322.30" width="5.46" height="0.60" fill="#8bd18b" stroke="#1a1a1a" stroke-width="0.55"/>
<rect x="582.00" y="319.10" width="5.46" height="3.20" fill="#f06565" stroke="#1a1a1a" stroke-width="0.55"/>
<rect x="582.00" y="299.20" width="5.46" height="19.90" fill="#ffffff" stroke="#1a1a1a" stroke-width="0.55"/>
<rect x="587.46" y="320.50" width="5.46" height="3.70" fill="#5b88bd" stroke="#1a1a1a" stroke-width="0.55"/>
<rect x="587.46" y="317.90" width="5.46" height="2.60" fill="#8bd18b" stroke="#1a1a1a" stroke-width="0.55"/>
<rect x="587.46" y="314.40" width="5.46" height="3.50" fill="#f06565" stroke="#1a1a1a" stroke-width="0.55"/>
<rect x="587.46" y="293.70" width="5.46" height="20.70" fill="#ffffff" stroke="#1a1a1a" stroke-width="0.55"/>
<rect x="592.92" y="323.70" width="5.46" height="0.50" fill="#5b88bd" stroke="#1a1a1a" stroke-width="0.55"/>
<rect x="592.92" y="322.60" width="5.46" height="1.10" fill="#8bd18b" stroke="#1a1a1a" stroke-width="0.55"/>
<rect x="592.92" y="321.00" width="5.46" height="1.60" fill="#f06565" stroke="#1a1a1a" stroke-width="0.55"/>
<rect x="592.92" y="297.90" width="5.46" height="23.10" fill="#ffffff" stroke="#1a1a1a" stroke-width="0.55"/>
<rect x="598.39" y="321.20" width="5.46" height="3.00" fill="#5b88bd" stroke="#1a1a1a" stroke-width="0.55"/>
<rect x="598.39" y="316.40" width="5.46" height="4.80" fill="#8bd18b" stroke="#1a1a1a" stroke-width="0.55"/>
<rect x="598.39" y="313.10" width="5.46" height="3.30" fill="#f06565" stroke="#1a1a1a" stroke-width="0.55"/>
<rect x="598.39" y="289.90" width="5.46" height="23.20" fill="#ffffff" stroke="#1a1a1a" stroke-width="0.55"/>
<rect x="603.85" y="322.45" width="5.46" height="1.75" fill="#5b88bd" stroke="#1a1a1a" stroke-width="0.55"/>
<rect x="603.85" y="318.95" width="5.46" height="3.50" fill="#8bd18b" stroke="#1a1a1a" stroke-width="0.55"/>
<rect x="603.85" y="317.85" width="5.46" height="1.10" fill="#f06565" stroke="#1a1a1a" stroke-width="0.55"/>
<rect x="603.85" y="286.50" width="5.46" height="31.35" fill="#ffffff" stroke="#1a1a1a" stroke-width="0.55"/>
<rect x="609.32" y="322.45" width="5.46" height="1.75" fill="#5b88bd" stroke="#1a1a1a" stroke-width="0.55"/>
<rect x="609.32" y="316.55" width="5.46" height="5.90" fill="#8bd18b" stroke="#1a1a1a" stroke-width="0.55"/>
<rect x="609.32" y="313.75" width="5.46" height="2.80" fill="#f06565" stroke="#1a1a1a" stroke-width="0.55"/>
<rect x="609.32" y="281.70" width="5.46" height="32.05" fill="#ffffff" stroke="#1a1a1a" stroke-width="0.55"/>
<rect x="614.78" y="323.30" width="5.46" height="0.90" fill="#5b88bd" stroke="#1a1a1a" stroke-width="0.55"/>
<rect x="614.78" y="319.40" width="5.46" height="3.90" fill="#8bd18b" stroke="#1a1a1a" stroke-width="0.55"/>
<rect x="614.78" y="315.70" width="5.46" height="3.70" fill="#f06565" stroke="#1a1a1a" stroke-width="0.55"/>
<rect x="614.78" y="282.90" width="5.46" height="32.80" fill="#ffffff" stroke="#1a1a1a" stroke-width="0.55"/>
<rect x="620.24" y="323.10" width="5.46" height="1.10" fill="#5b88bd" stroke="#1a1a1a" stroke-width="0.55"/>
<rect x="620.24" y="318.50" width="5.46" height="4.60" fill="#8bd18b" stroke="#1a1a1a" stroke-width="0.55"/>
<rect x="620.24" y="316.50" width="5.46" height="2.00" fill="#f06565" stroke="#1a1a1a" stroke-width="0.55"/>
<rect x="620.24" y="285.20" width="5.46" height="31.30" fill="#ffffff" stroke="#1a1a1a" stroke-width="0.55"/>
<rect x="625.71" y="322.00" width="5.46" height="2.20" fill="#8bd18b" stroke="#1a1a1a" stroke-width="0.55"/>
<rect x="625.71" y="317.00" width="5.46" height="5.00" fill="#f06565" stroke="#1a1a1a" stroke-width="0.55"/>
<rect x="625.71" y="290.00" width="5.46" height="27.00" fill="#ffffff" stroke="#1a1a1a" stroke-width="0.55"/>
<rect x="631.17" y="323.40" width="5.46" height="0.80" fill="#5b88bd" stroke="#1a1a1a" stroke-width="0.55"/>
<rect x="631.17" y="317.90" width="5.46" height="5.50" fill="#8bd18b" stroke="#1a1a1a" stroke-width="0.55"/>
<rect x="631.17" y="310.00" width="5.46" height="7.90" fill="#f06565" stroke="#1a1a1a" stroke-width="0.55"/>
<rect x="631.17" y="273.00" width="5.46" height="37.00" fill="#ffffff" stroke="#1a1a1a" stroke-width="0.55"/>
<rect x="636.64" y="323.90" width="5.46" height="0.30" fill="#5b88bd" stroke="#1a1a1a" stroke-width="0.55"/>
<rect x="636.64" y="317.80" width="5.46" height="6.10" fill="#8bd18b" stroke="#1a1a1a" stroke-width="0.55"/>
<rect x="636.64" y="313.60" width="5.46" height="4.20" fill="#f06565" stroke="#1a1a1a" stroke-width="0.55"/>
<rect x="636.64" y="277.50" width="5.46" height="36.10" fill="#ffffff" stroke="#1a1a1a" stroke-width="0.55"/>
<rect x="642.10" y="323.70" width="5.46" height="0.50" fill="#5b88bd" stroke="#1a1a1a" stroke-width="0.55"/>
<rect x="642.10" y="318.90" width="5.46" height="4.80" fill="#8bd18b" stroke="#1a1a1a" stroke-width="0.55"/>
<rect x="642.10" y="315.30" width="5.46" height="3.60" fill="#f06565" stroke="#1a1a1a" stroke-width="0.55"/>
<rect x="642.10" y="288.10" width="5.46" height="27.20" fill="#ffffff" stroke="#1a1a1a" stroke-width="0.55"/>
<rect x="647.56" y="322.50" width="5.46" height="1.70" fill="#8bd18b" stroke="#1a1a1a" stroke-width="0.55"/>
<rect x="647.56" y="320.90" width="5.46" height="1.60" fill="#f06565" stroke="#1a1a1a" stroke-width="0.55"/>
<rect x="647.56" y="308.70" width="5.46" height="12.20" fill="#ffffff" stroke="#1a1a1a" stroke-width="0.55"/>
<rect x="653.03" y="323.90" width="5.46" height="0.30" fill="#8bd18b" stroke="#1a1a1a" stroke-width="0.55"/>
<rect x="653.03" y="323.60" width="5.46" height="0.30" fill="#f06565" stroke="#1a1a1a" stroke-width="0.55"/>
<rect x="653.03" y="319.10" width="5.46" height="4.50" fill="#ffffff" stroke="#1a1a1a" stroke-width="0.55"/>
<line x1="428.4" y1="189.60" x2="428.4" y2="331.20" stroke="#555" stroke-width="0.9"/>
<line x1="428" y1="330.70" x2="669" y2="330.70" stroke="#555" stroke-width="0.9"/>
<line x1="426.4" y1="324.50" x2="428.4" y2="324.50" stroke="#555" stroke-width="0.8"/>
<text transform="translate(426.4,327.30) scale(0.94,1)" font-size="8.0" text-anchor="end" fill="#4d4d4d">0</text>
<line x1="426.4" y1="297.70" x2="428.4" y2="297.70" stroke="#555" stroke-width="0.8"/>
<text transform="translate(426.4,300.50) scale(0.94,1)" font-size="8.0" text-anchor="end" fill="#4d4d4d">50</text>
<line x1="426.4" y1="270.90" x2="428.4" y2="270.90" stroke="#555" stroke-width="0.8"/>
<text transform="translate(426.4,273.70) scale(0.94,1)" font-size="8.0" text-anchor="end" fill="#4d4d4d">100</text>
<line x1="426.4" y1="244.10" x2="428.4" y2="244.10" stroke="#555" stroke-width="0.8"/>
<text transform="translate(426.4,246.90) scale(0.94,1)" font-size="8.0" text-anchor="end" fill="#4d4d4d">150</text>
<line x1="426.4" y1="217.30" x2="428.4" y2="217.30" stroke="#555" stroke-width="0.8"/>
<text transform="translate(426.4,220.10) scale(0.94,1)" font-size="8.0" text-anchor="end" fill="#4d4d4d">200</text>
<line x1="426.4" y1="190.50" x2="428.4" y2="190.50" stroke="#555" stroke-width="0.8"/>
<text transform="translate(426.4,193.30) scale(0.94,1)" font-size="8.0" text-anchor="end" fill="#4d4d4d">250</text>
<line x1="441.28" y1="331.10" x2="441.28" y2="332.40" stroke="#777" stroke-width="0.7"/>
<text transform="translate(441.28,337.70) scale(0.94,1)" font-size="8.0" text-anchor="middle" fill="#4d4d4d">−0.4</text>
<line x1="474.54" y1="331.10" x2="474.54" y2="332.40" stroke="#777" stroke-width="0.7"/>
<text transform="translate(474.54,337.70) scale(0.94,1)" font-size="8.0" text-anchor="middle" fill="#4d4d4d">−0.2</text>
<line x1="507.80" y1="331.10" x2="507.80" y2="332.40" stroke="#777" stroke-width="0.7"/>
<text transform="translate(507.80,337.70) scale(0.94,1)" font-size="8.0" text-anchor="middle" fill="#4d4d4d">0.0</text>
<line x1="541.06" y1="331.10" x2="541.06" y2="332.40" stroke="#777" stroke-width="0.7"/>
<text transform="translate(541.06,337.70) scale(0.94,1)" font-size="8.0" text-anchor="middle" fill="#4d4d4d">0.2</text>
<line x1="574.32" y1="331.10" x2="574.32" y2="332.40" stroke="#777" stroke-width="0.7"/>
<text transform="translate(574.32,337.70) scale(0.94,1)" font-size="8.0" text-anchor="middle" fill="#4d4d4d">0.4</text>
<line x1="607.58" y1="331.10" x2="607.58" y2="332.40" stroke="#777" stroke-width="0.7"/>
<text transform="translate(607.58,337.70) scale(0.94,1)" font-size="8.0" text-anchor="middle" fill="#4d4d4d">0.6</text>
<line x1="640.84" y1="331.10" x2="640.84" y2="332.40" stroke="#777" stroke-width="0.7"/>
<text transform="translate(640.84,337.70) scale(0.94,1)" font-size="8.0" text-anchor="middle" fill="#4d4d4d">0.8</text>
<text transform="translate(410.3,260.40) rotate(-90)" font-size="9.8" font-weight="bold" text-anchor="middle" fill="#000">Count</text>
<text x="499.3" y="348.40" font-size="9.7" font-weight="bold" fill="#000">Pearson's correlation</text>
<text x="611.4" y="201.1" font-size="9.8" fill="#000">Platforms</text>
<rect x="611.60" y="204.40" width="8.6" height="9.30" fill="#5b88bd" stroke="#1a1a1a" stroke-width="0.7"/>
<text x="623.20" y="212.30" font-size="9.6" fill="#000">Olink</text>
<rect x="611.60" y="213.70" width="8.6" height="9.30" fill="#8bd18b" stroke="#1a1a1a" stroke-width="0.7"/>
<text x="623.20" y="221.60" font-size="9.6" fill="#000">Both</text>
<rect x="611.60" y="223.00" width="8.6" height="9.30" fill="#f06565" stroke="#1a1a1a" stroke-width="0.7"/>
<text x="623.20" y="230.90" font-size="9.6" fill="#000">Soma</text>
<rect x="611.60" y="232.30" width="8.6" height="9.30" fill="#ffffff" stroke="#1a1a1a" stroke-width="0.7"/>
<text x="623.20" y="240.20" font-size="9.6" fill="#000">Neither</text>
<rect x="3.5" y="396.7" width="678.2" height="111.80000000000001" fill="none" stroke="#333" stroke-width="1.1"/>
<line x1="3.5" y1="431.5" x2="681.7" y2="431.5" stroke="#333" stroke-width="1.1"/>
<line x1="3.5" y1="451.0" x2="681.7" y2="451.0" stroke="#333" stroke-width="1.1"/>
<line x1="3.5" y1="470.2" x2="681.7" y2="470.2" stroke="#333" stroke-width="1.1"/>
<line x1="3.5" y1="489.5" x2="681.7" y2="489.5" stroke="#333" stroke-width="1.1"/>
<text x="241.5" y="411.5" font-size="12.95" font-weight="bold" fill="#000">Median Correlation</text>
<text x="396.0" y="411.5" font-size="12.95" font-weight="bold" fill="#000">N Proteins</text>
<text x="512.0" y="411.5" font-size="13.2" font-weight="bold" fill="#000">N PAV-Associated (%)</text>
<text x="8.4" y="446.6" font-size="12.95" fill="#000">Platform-Concordant cis-pQTL</text>
<text x="241.2" y="446.6" font-size="12.95" fill="#000">0.61</text>
<text x="396.5" y="446.6" font-size="12.95" fill="#000">515</text>
<text x="512.3" y="446.6" font-size="12.95" fill="#000">134 (26%)</text>
<text x="7.5" y="465.8" font-size="12.95" fill="#000">Platform-Discordant cis-pQTL</text>
<text x="241.2" y="465.8" font-size="12.95" fill="#000">0.40</text>
<text x="396.5" y="465.8" font-size="12.95" fill="#000">19</text>
<text x="512.3" y="465.8" font-size="12.95" fill="#000">16</text>
<text x="526.4" y="465.8" font-size="12.95" fill="#000">(84%)</text>
<text x="7.6" y="484.2" font-size="12.95" fill="#000">SomaScan-only cis-pQTL</text>
<text x="244.1" y="484.2" font-size="12.95" fill="#000">0.41</text>
<text x="400.0" y="484.2" font-size="12.95" fill="#000">196</text>
<text x="514.8" y="484.2" font-size="12.95" fill="#000">48 (25%)</text>
<text x="8.5" y="504.3" font-size="12.95" fill="#000">Olink-only cis-pQTL</text>
<text x="242.6" y="504.3" font-size="12.95" fill="#000">0.13</text>
<text x="399.0" y="504.3" font-size="12.95" fill="#000">392</text>
<text x="512.3" y="504.3" font-size="12.95" fill="#000">119 (30%)</text>
<rect x="0.8" y="536.2" width="683.4000000000001" height="89.79999999999995" fill="none" stroke="#333" stroke-width="1.1"/>
<line x1="0.8" y1="570.0" x2="684.2" y2="570.0" stroke="#333" stroke-width="1.1"/>
<line x1="0.8" y1="588.7" x2="684.2" y2="588.7" stroke="#333" stroke-width="1.1"/>
<line x1="0.8" y1="607.4" x2="684.2" y2="607.4" stroke="#333" stroke-width="1.1"/>
<text x="241.2" y="553.0" font-size="12.9" font-weight="bold" fill="#000">Median Correlation</text>
<text x="398.5" y="553.0" font-size="12.9" font-weight="bold" fill="#000">N Proteins</text>
<text x="514.2" y="553.0" font-size="12.9" font-weight="bold" fill="#000">Pleioptropic (%)</text>
<text x="4.3" y="584.6" font-size="13.15" fill="#000">trans-pQTL on both platforms</text>
<text x="240.6" y="584.6" font-size="13.15" fill="#000">0.55</text>
<text x="391.5" y="584.6" font-size="13.15" fill="#000">129</text>
<text x="509.8" y="584.6" font-size="13.15" fill="#000">67 (52%)</text>
<text x="4.3" y="603.3" font-size="13.15" fill="#000">SomaScan-only trans-pQTL</text>
<text x="240.6" y="603.3" font-size="13.15" fill="#000">0.04</text>
<text x="391.5" y="603.3" font-size="13.15" fill="#000">295</text>
<text x="509.8" y="603.3" font-size="13.15" fill="#000">178 (60%)</text>
<text x="4.3" y="621.8" font-size="13.15" fill="#000">Olink-only trans-pQTL</text>
<text x="240.6" y="621.8" font-size="13.15" fill="#000">0.09</text>
<text x="391.5" y="621.8" font-size="13.15" fill="#000">133</text>
<text x="509.8" y="621.8" font-size="13.15" fill="#000">55 (41%)</text>
</svg>
</body></html>
